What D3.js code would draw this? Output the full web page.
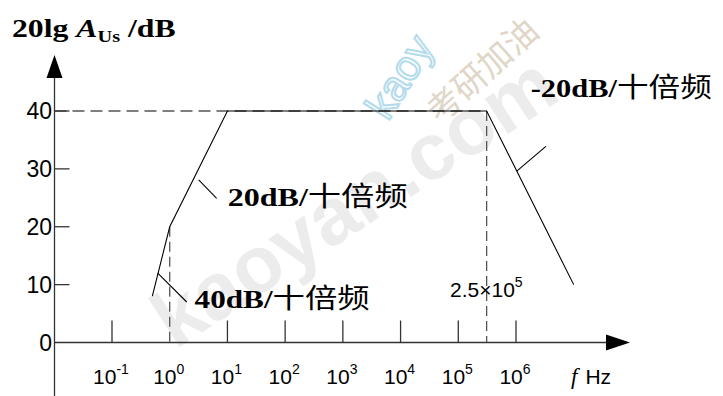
<!DOCTYPE html>
<html>
<head>
<meta charset="utf-8">
<script src="https://cdn.jsdelivr.net/npm/d3@7/dist/d3.min.js"></script>
<style>
  body { margin: 0; background: #fff; }
  svg { display: block; }
</style>
</head>
<body>
<svg id="chart" width="723" height="396"></svg>
<script>
// Data
const decades = [-1, 0, 1, 2, 3, 4, 5, 6]
const dbTicks = [0, 10, 20, 30, 40]
const curveFreq = [0.5, 1, 10, 3.1e5, 1e7]
const curveDb = [8, 20, 40, 40, 10]
const fLow = 1
const fHigh = 3.1e5
const midbandDb = 40
const cornerLabel = ["2.5×10", "5"]
const notes = [
  { slope: "20dB/", unit: "十倍频", from: [3.18, 28.1], to: [6.5, 24.9], at: [10.1, 23.6], w: 180 },
  { slope: "40dB/", unit: "十倍频", from: [0.62, 12], to: [1.97, 7], at: [2.7, 5.9], w: 175 },
  { slope: "-20dB/", unit: "十倍频", from: [3.3e6, 33.9], to: [1.03e6, 29.6], at: [1.8e6, 42.5], w: 181 }
]

// Globals
const svg = d3.select("#chart")
const x = d3.scaleLog().domain([1e-1, 1e6]).range([112, 516])
const y = d3.scaleLinear().domain([0, 40]).range([342.5, 111])
const x0 = 54.5
const axisColor = "#333"

// watermark (rough)
svg.append("text")
  .attr("transform", "translate(175,350) rotate(-33)")
  .attr("font-family", "Liberation Sans").attr("font-weight", "bold")
  .attr("font-size", 80).attr("fill", "#ececec")
  .text("kaoyan.com")
svg.append("text")
  .attr("transform", "translate(388,122) rotate(-58)")
  .attr("font-family", "Liberation Sans").attr("font-size", 42)
  .attr("fill", "none").attr("stroke", "#b4dbec").attr("stroke-width", 2)
  .text("kaoy")
svg.append("text")
  .attr("transform", "translate(440,125) rotate(-42)")
  .attr("font-family", "Noto Sans CJK SC").attr("font-size", 34)
  .attr("fill", "#e0d6c8")
  .text("考研加油")

// dashed guides
let dash = svg.append("g").attr("stroke", "#555").attr("stroke-width", 1.3)
  .attr("stroke-dasharray", "12,6").attr("fill", "none")
dash.append("line").attr("x1", x0).attr("x2", x(fHigh))
  .attr("y1", y(midbandDb)).attr("y2", y(midbandDb))
dash.append("line").attr("x1", x(fLow)).attr("x2", x(fLow))
  .attr("y1", y(20)).attr("y2", y(0)).attr("stroke-dasharray", "10,5")
dash.append("line").attr("x1", x(fHigh)).attr("x2", x(fHigh))
  .attr("y1", y(midbandDb)).attr("y2", y(0)).attr("stroke-dasharray", "10,5")

// axes
let ax = svg.append("g").attr("stroke", axisColor).attr("stroke-width", 1.3)
ax.append("line").attr("x1", x0).attr("x2", 612).attr("y1", y(0)).attr("y2", y(0))
ax.append("line").attr("x1", x0).attr("x2", x0).attr("y1", 396).attr("y2", 74)
svg.append("path").attr("fill", "#000")
  .attr("d", `M${x0},55 L${x0 - 8},78 L${x0 + 8},78 Z`)
svg.append("path").attr("fill", "#000")
  .attr("d", `M630,${y(0)} L606,${y(0) - 8} L606,${y(0) + 8} Z`)

// x ticks (decade 0 is covered by the dashed line)
ax.selectAll(".xt").data(decades.filter(d => d !== 0)).enter().append("line")
  .attr("x1", d => x(Math.pow(10, d))).attr("x2", d => x(Math.pow(10, d)))
  .attr("y1", y(0)).attr("y2", y(0) - 22)
ax.selectAll(".yt").data(dbTicks.filter(d => d > 0)).enter().append("line")
  .attr("x1", x0).attr("x2", x0 + 15)
  .attr("y1", d => y(d)).attr("y2", d => y(d))

// y labels
svg.selectAll(".yl").data(dbTicks).enter().append("text")
  .attr("x", 52).attr("y", d => y(d)).attr("dy", "0.36em")
  .attr("text-anchor", "end")
  .attr("font-family", "Liberation Sans").attr("font-size", 23).attr("fill", "#000")
  .text(d => d)

// x labels
let xl = svg.selectAll(".xl").data(decades).enter().append("text")
  .attr("x", d => x(Math.pow(10, d)) - 1).attr("y", 384)
  .attr("text-anchor", "middle")
  .attr("font-family", "Liberation Sans").attr("font-size", 21).attr("fill", "#000")
xl.append("tspan").text("10")
xl.append("tspan").attr("dy", -10).attr("font-size", 14).text(d => d)

// f Hz
let fh = svg.append("text").attr("x", 571).attr("y", 384).attr("fill", "#000")
fh.append("tspan").attr("font-family", "Liberation Serif").attr("font-style", "italic")
  .attr("font-size", 23).text("f")
fh.append("tspan").attr("dx", 8).attr("font-family", "Liberation Sans")
  .attr("font-size", 21).text("Hz")

// corner label
let cl = svg.append("text").attr("x", 450).attr("y", 297)
  .attr("font-family", "Liberation Sans").attr("font-size", 21).attr("fill", "#000")
cl.append("tspan").text(cornerLabel[0])
cl.append("tspan").attr("dy", -10).attr("font-size", 14).text(cornerLabel[1])

// magnitude curve
let line = d3.line().x(d => x(d[0])).y(d => y(d[1]))
svg.append("path")
  .datum(d3.zip(curveFreq, curveDb))
  .attr("d", line)
  .attr("fill", "none").attr("stroke", "#000").attr("stroke-width", 1.1)

// slope notes
let ng = svg.selectAll(".note").data(notes).enter().append("g")
ng.append("line")
  .attr("x1", d => x(d.from[0])).attr("y1", d => y(d.from[1]))
  .attr("x2", d => x(d.to[0])).attr("y2", d => y(d.to[1]))
  .attr("stroke", "#000").attr("stroke-width", 1.1)
let nt = ng.append("text")
  .attr("x", d => x(d.at[0])).attr("y", d => y(d.at[1]))
  .attr("font-size", 26).attr("fill", "#000")
  .attr("textLength", d => d.w).attr("lengthAdjust", "spacingAndGlyphs")
nt.append("tspan").attr("font-family", "Liberation Serif").attr("font-weight", "bold")
  .text(d => d.slope)
nt.append("tspan").attr("font-family", "Noto Sans CJK SC").attr("font-weight", "normal")
  .attr("font-size", 27).text(d => d.unit)

// title
let title = svg.append("text")
  .attr("transform", "translate(12,37) scale(1.27,1)")
  .attr("font-family", "Liberation Serif").attr("font-weight", "bold")
  .attr("font-size", 25).attr("fill", "#000")
title.append("tspan").text("20lg ")
title.append("tspan").attr("font-style", "italic").text("A")
title.append("tspan").attr("dy", 5).attr("font-size", 16).text("Us")
title.append("tspan").attr("dy", -5).text(" /dB")
</script>
</body>
</html>
